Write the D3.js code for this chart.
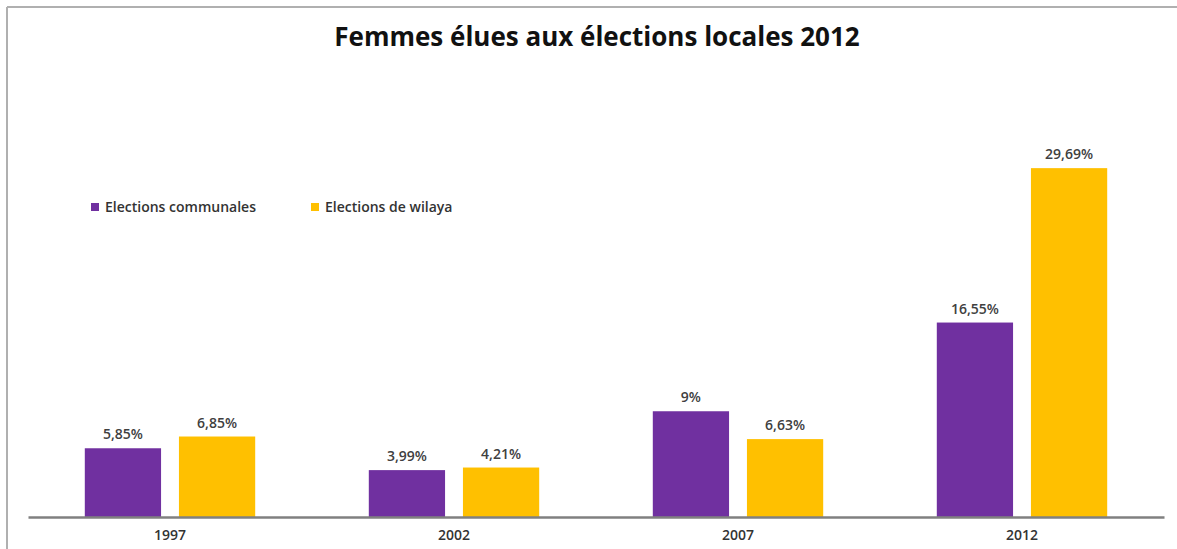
<!DOCTYPE html>
<html>
<head>
<meta charset="utf-8">
<script src="https://cdn.jsdelivr.net/npm/d3@7"></script>
<style>
  body { margin: 0; background: #fff; }
  text { font-family: "Open Sans", "Noto Sans", sans-serif; }
</style>
</head>
<body>
<svg id="chart" width="1177" height="549"></svg>
<script>
const years = ["1997", "2002", "2007", "2012"];
const seriesNames = ["Elections communales", "Elections de wilaya"];
const communales = [5.85, 3.99, 9, 16.55];
const wilaya = [6.85, 4.21, 6.63, 29.69];
const colors = ["#7030a0", "#ffc000"];

const svg = d3.select("#chart");
const width = 1177;
const height = 549;
const baseY = 517;

// frame lines (top + left)
svg.append("line")
  .attr("x1", 7).attr("x2", width).attr("y1", 7).attr("y2", 7)
  .attr("stroke", "#b0b0b0").attr("stroke-width", 2);
svg.append("line")
  .attr("x1", 7).attr("x2", 7).attr("y1", 7).attr("y2", height)
  .attr("stroke", "#b0b0b0").attr("stroke-width", 2);

const x0 = d3.scaleBand().domain(years).range([28, 1164]).paddingInner(0.4).paddingOuter(0.2);
const x1 = d3.scaleBand().domain([0, 1]).range([0, x0.bandwidth()]).paddingInner(0.19);
const y = d3.scaleLinear().domain([0, 35]).range([baseY, baseY - 35 * 11.75]);

const rows = years.map((yr, i) => ({ year: yr, vals: [communales[i], wilaya[i]] }));

const fmt = (v) => String(v).replace(".", ",") + "%";

const groups = svg.selectAll("g.year")
  .data(rows)
  .enter()
  .append("g")
  .attr("class", "year")
  .attr("transform", (d) => `translate(${x0(d.year)},0)`);

groups.selectAll("rect")
  .data((d) => d.vals.map((v, k) => ({ k, v })))
  .enter()
  .append("rect")
  .attr("x", (d) => x1(d.k))
  .attr("y", (d) => y(d.v))
  .attr("width", x1.bandwidth())
  .attr("height", (d) => baseY - y(d.v))
  .attr("fill", (d) => colors[d.k]);

groups.selectAll("text.val")
  .data((d) => d.vals.map((v, k) => ({ k, v })))
  .enter()
  .append("text")
  .attr("class", "val")
  .attr("x", (d) => x1(d.k) + x1.bandwidth() / 2)
  .attr("y", (d) => y(d.v) - 9)
  .attr("text-anchor", "middle")
  .attr("font-size", 14)
  .attr("font-weight", 600)
  .attr("fill", "#404040")
  .text((d) => fmt(d.v));

// baseline axis
const xAxis = d3.axisBottom(x0).tickSize(0).tickPadding(13);
const axisG = svg.append("g")
  .attr("transform", `translate(0,${baseY})`)
  .call(xAxis);
axisG.select(".domain").attr("stroke", "#808080").attr("stroke-width", 2.5);
axisG.selectAll("text")
  .attr("font-size", 14)
  .attr("font-weight", 600)
  .attr("font-family", "Open Sans, sans-serif")
  .attr("fill", "#333");

// title
svg.append("text")
  .attr("x", 597)
  .attr("y", 46)
  .attr("text-anchor", "middle")
  .attr("font-size", 26)
  .attr("font-weight", 700)
  .attr("fill", "#111")
  .text("Femmes élues aux élections locales 2012");

// legend
const legendX = [91, 311];
const legend = svg.selectAll("g.legend")
  .data(seriesNames)
  .enter()
  .append("g")
  .attr("class", "legend")
  .attr("transform", (d, i) => `translate(${legendX[i]},203)`);
legend.append("rect")
  .attr("width", 8).attr("height", 8)
  .attr("fill", (d, i) => colors[i]);
legend.append("text")
  .attr("x", 14).attr("y", 9)
  .attr("font-size", 14)
  .attr("font-weight", 600)
  .attr("fill", "#333")
  .text((d) => d);
</script>
</body>
</html>
